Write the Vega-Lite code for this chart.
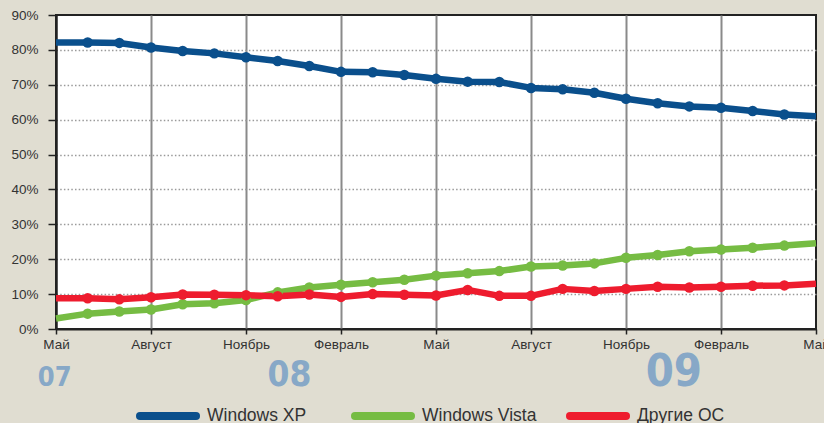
{
  "$schema": "https://vega.github.io/schema/vega-lite/v6.json",
  "width": 760,
  "height": 314,
  "autosize": {"type": "none"},
  "padding": {"left": 56, "top": 15, "right": 8, "bottom": 94},
  "background": "#e0ddd1",
  "view": {"fill": "white", "stroke": "#222", "strokeWidth": 2},
  "config": {
    "font": "Liberation Sans",
    "axis": {"labelFont": "Liberation Sans", "labelColor": "#333", "labelFontSize": 13.5}
  },
  "encoding": {
    "x": {
      "field": "m", "type": "quantitative",
      "scale": {"domain": [0, 24], "nice": false, "zero": false},
      "axis": {
        "title": null,
        "values": [0, 3, 6, 9, 12, 15, 18, 21, 24],
        "tickCount": 30,
        "labelExpr": "['Май','Август','Ноябрь','Февраль'][round(datum.value/3)%4]",
        "labelFlush": false,
        "labelOverlap": false,
        "labelPadding": 3,
        "tickSize": 5, "tickColor": "#222", "tickWidth": 1.5,
        "domainColor": "#222", "domainWidth": 2,
        "grid": true,
        "gridColor": {"condition": {"test": "datum.value <= 0 || datum.value >= 24", "value": "transparent"}, "value": "#8a8a8a"},
        "gridWidth": 2
      }
    },
    "y": {
      "field": "v", "type": "quantitative",
      "scale": {"domain": [0, 90], "nice": false},
      "axis": {
        "title": null,
        "values": [0, 10, 20, 30, 40, 50, 60, 70, 80, 90],
        "tickCount": 20,
        "labelExpr": "datum.value + '%'",
        "labelOverlap": false,
        "labelPadding": 10,
        "tickSize": 8, "tickColor": "#222", "tickWidth": 1.5,
        "domainColor": "#222", "domainWidth": 2.5,
        "grid": true,
        "gridColor": {"condition": {"test": "datum.value <= 0 || datum.value >= 90", "value": "transparent"}, "value": "#9a9a9a"},
        "gridDash": [1.5, 2.2],
        "gridWidth": 1.5
      }
    }
  },
  "layer": [
    {
      "data": {"name": "series"},
      "mark": {"type": "line", "strokeWidth": 6.5, "strokeJoin": "round"},
      "encoding": {
        "color": {
          "field": "os", "type": "nominal",
          "scale": {"domain": ["Windows XP", "Windows Vista", "Другие ОС"], "range": ["#0a4f8c", "#76bc43", "#ee1c2e"]},
          "legend": {
            "title": null,
            "orient": "none",
            "legendX": 80,
            "legendY": 369,
            "direction": "horizontal",
            "gridAlign": "all",
            "columnPadding": 17,
            "padding": 0,
            "symbolType": "stroke",
            "symbolSize": 3136,
            "symbolStrokeWidth": 8,
            "labelOffset": 7,
            "labelFont": "Liberation Sans",
            "labelFontSize": 17.5,
            "labelColor": "#333",
            "labelLimit": 200,
            "encode": {"symbols": {"update": {"strokeCap": {"value": "round"}}}}
          }
        },
        "order": {"field": "m", "type": "quantitative"}
      }
    },
    {
      "data": {"name": "series"},
      "transform": [{"filter": "datum.m > 0 && datum.m < 24"}],
      "mark": {"type": "circle", "size": 110, "opacity": 1},
      "encoding": {
        "color": {"field": "os", "type": "nominal", "legend": null}
      }
    },
    {
      "data": {"values": [{"m": -0.04, "v": -16.2, "t": "07"}]},
      "mark": {"type": "text", "font": "DejaVu Sans Condensed", "fontWeight": "bold", "fontSize": 27, "color": "#87a8c7", "baseline": "alphabetic", "align": "center"},
      "encoding": {"text": {"field": "t"}}
    },
    {
      "data": {"values": [{"m": 7.37, "v": -16.2, "t": "08"}]},
      "mark": {"type": "text", "font": "DejaVu Sans Condensed", "fontWeight": "bold", "fontSize": 35, "color": "#87a8c7", "baseline": "alphabetic", "align": "center"},
      "encoding": {"text": {"field": "t"}}
    },
    {
      "data": {"values": [{"m": 19.51, "v": -16.2, "t": "09"}]},
      "mark": {"type": "text", "font": "DejaVu Sans Condensed", "fontWeight": "bold", "fontSize": 45, "color": "#87a8c7", "baseline": "alphabetic", "align": "center"},
      "encoding": {"text": {"field": "t"}}
    }
  ],
  "datasets": {
    "series": [
      {"m": 0, "os": "Windows XP", "v": 82.1}, {"m": 1, "os": "Windows XP", "v": 82.1}, {"m": 2, "os": "Windows XP", "v": 82.0}, {"m": 3, "os": "Windows XP", "v": 80.7}, {"m": 4, "os": "Windows XP", "v": 79.7},
      {"m": 5, "os": "Windows XP", "v": 79.0}, {"m": 6, "os": "Windows XP", "v": 77.9}, {"m": 7, "os": "Windows XP", "v": 76.8}, {"m": 8, "os": "Windows XP", "v": 75.4}, {"m": 9, "os": "Windows XP", "v": 73.7},
      {"m": 10, "os": "Windows XP", "v": 73.6}, {"m": 11, "os": "Windows XP", "v": 72.8}, {"m": 12, "os": "Windows XP", "v": 71.7}, {"m": 13, "os": "Windows XP", "v": 70.9}, {"m": 14, "os": "Windows XP", "v": 70.8},
      {"m": 15, "os": "Windows XP", "v": 69.1}, {"m": 16, "os": "Windows XP", "v": 68.7}, {"m": 17, "os": "Windows XP", "v": 67.7}, {"m": 18, "os": "Windows XP", "v": 66.0}, {"m": 19, "os": "Windows XP", "v": 64.7},
      {"m": 20, "os": "Windows XP", "v": 63.8}, {"m": 21, "os": "Windows XP", "v": 63.4}, {"m": 22, "os": "Windows XP", "v": 62.5}, {"m": 23, "os": "Windows XP", "v": 61.5}, {"m": 24, "os": "Windows XP", "v": 61.0},
      {"m": 0, "os": "Windows Vista", "v": 3.0}, {"m": 1, "os": "Windows Vista", "v": 4.4}, {"m": 2, "os": "Windows Vista", "v": 5.0}, {"m": 3, "os": "Windows Vista", "v": 5.6}, {"m": 4, "os": "Windows Vista", "v": 7.1},
      {"m": 5, "os": "Windows Vista", "v": 7.4}, {"m": 6, "os": "Windows Vista", "v": 8.3}, {"m": 7, "os": "Windows Vista", "v": 10.5}, {"m": 8, "os": "Windows Vista", "v": 11.9}, {"m": 9, "os": "Windows Vista", "v": 12.7},
      {"m": 10, "os": "Windows Vista", "v": 13.4}, {"m": 11, "os": "Windows Vista", "v": 14.1}, {"m": 12, "os": "Windows Vista", "v": 15.3}, {"m": 13, "os": "Windows Vista", "v": 16.0}, {"m": 14, "os": "Windows Vista", "v": 16.6},
      {"m": 15, "os": "Windows Vista", "v": 17.9}, {"m": 16, "os": "Windows Vista", "v": 18.2}, {"m": 17, "os": "Windows Vista", "v": 18.8}, {"m": 18, "os": "Windows Vista", "v": 20.4}, {"m": 19, "os": "Windows Vista", "v": 21.2},
      {"m": 20, "os": "Windows Vista", "v": 22.3}, {"m": 21, "os": "Windows Vista", "v": 22.8}, {"m": 22, "os": "Windows Vista", "v": 23.3}, {"m": 23, "os": "Windows Vista", "v": 23.9}, {"m": 24, "os": "Windows Vista", "v": 24.6},
      {"m": 0, "os": "Другие ОС", "v": 8.8}, {"m": 1, "os": "Другие ОС", "v": 8.8}, {"m": 2, "os": "Другие ОС", "v": 8.5}, {"m": 3, "os": "Другие ОС", "v": 9.1}, {"m": 4, "os": "Другие ОС", "v": 9.9},
      {"m": 5, "os": "Другие ОС", "v": 9.8}, {"m": 6, "os": "Другие ОС", "v": 9.7}, {"m": 7, "os": "Другие ОС", "v": 9.4}, {"m": 8, "os": "Другие ОС", "v": 9.9}, {"m": 9, "os": "Другие ОС", "v": 9.2},
      {"m": 10, "os": "Другие ОС", "v": 10.0}, {"m": 11, "os": "Другие ОС", "v": 9.8}, {"m": 12, "os": "Другие ОС", "v": 9.6}, {"m": 13, "os": "Другие ОС", "v": 11.2}, {"m": 14, "os": "Другие ОС", "v": 9.5},
      {"m": 15, "os": "Другие ОС", "v": 9.5}, {"m": 16, "os": "Другие ОС", "v": 11.5}, {"m": 17, "os": "Другие ОС", "v": 10.9}, {"m": 18, "os": "Другие ОС", "v": 11.5}, {"m": 19, "os": "Другие ОС", "v": 12.1},
      {"m": 20, "os": "Другие ОС", "v": 11.9}, {"m": 21, "os": "Другие ОС", "v": 12.1}, {"m": 22, "os": "Другие ОС", "v": 12.4}, {"m": 23, "os": "Другие ОС", "v": 12.5}, {"m": 24, "os": "Другие ОС", "v": 13.0}
    ]
  }
}
